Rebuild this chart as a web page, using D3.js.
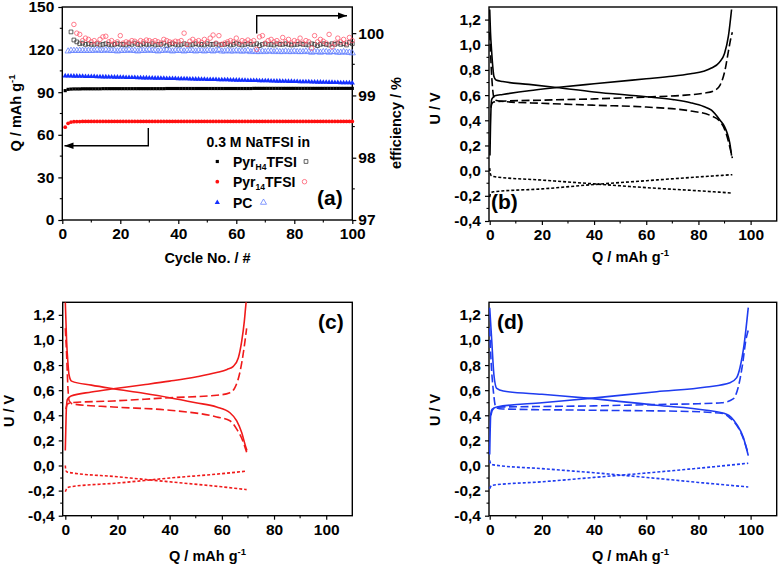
<!DOCTYPE html>
<html><head><meta charset="utf-8">
<script src="https://cdn.jsdelivr.net/npm/d3@7"></script>
<style>body{margin:0;background:#fff}svg{display:block}</style>
</head><body><svg id="c" width="779" height="566"></svg>
<script>
// ---------------- DATA ----------------
// Panel (a): capacity (left axis), cycle 1..100
const pyrH4Cap = [91.1,92.0,92.2,92.3,92.3,92.3,92.4,92.4,92.4,92.4,
 92.4,92.4,92.4,92.5,92.5,92.5,92.5,92.5,92.5,92.5,
 92.5,92.5,92.5,92.5,92.5,92.5,92.5,92.5,92.5,92.5,
 92.5,92.5,92.5,92.5,92.5,92.6,92.6,92.6,92.6,92.6,
 92.6,92.6,92.6,92.6,92.6,92.6,92.6,92.6,92.6,92.6,
 92.6,92.6,92.6,92.6,92.6,92.6,92.6,92.6,92.6,92.6,
 92.6,92.6,92.6,92.6,92.6,92.7,92.7,92.7,92.7,92.7,
 92.7,92.7,92.7,92.7,92.7,92.7,92.7,92.7,92.7,92.7,
 92.7,92.7,92.7,92.7,92.7,92.7,92.7,92.7,92.7,92.7,
 92.7,92.7,92.7,92.7,92.7,92.7,92.7,92.7,92.7,92.7];
const pyr14Cap = [65.4,68.1,69.0,69.2,69.3,69.3,69.4,69.4,69.4,69.4,
 69.4,69.4,69.4,69.4,69.4,69.4,69.4,69.4,69.4,69.4,
 69.4,69.4,69.4,69.4,69.4,69.4,69.4,69.4,69.4,69.4,
 69.4,69.4,69.4,69.4,69.4,69.4,69.4,69.4,69.4,69.4,
 69.4,69.4,69.4,69.4,69.4,69.4,69.4,69.4,69.4,69.4,
 69.4,69.4,69.4,69.4,69.4,69.4,69.4,69.4,69.4,69.4,
 69.4,69.4,69.4,69.4,69.4,69.4,69.4,69.4,69.4,69.4,
 69.4,69.4,69.4,69.4,69.4,69.4,69.4,69.4,69.4,69.4,
 69.4,69.4,69.4,69.4,69.4,69.4,69.4,69.4,69.4,69.4,
 69.4,69.4,69.4,69.4,69.4,69.4,69.4,69.4,69.4,69.4];
const pcCap = [101.5,101.4,101.4,101.3,101.3,101.2,101.2,101.1,101.1,101.0,
 101.0,100.9,100.9,100.8,100.8,100.7,100.7,100.6,100.6,100.5,
 100.5,100.4,100.4,100.3,100.3,100.2,100.2,100.1,100.1,100.0,
 100.0,99.9,99.9,99.8,99.8,99.7,99.7,99.6,99.6,99.5,
 99.5,99.4,99.4,99.3,99.3,99.2,99.2,99.1,99.1,99.0,
 99.0,98.9,98.9,98.8,98.8,98.7,98.7,98.6,98.6,98.5,
 98.5,98.4,98.4,98.3,98.3,98.2,98.2,98.1,98.1,98.0,
 98.0,97.9,97.9,97.8,97.8,97.7,97.7,97.6,97.6,97.5,
 97.5,97.4,97.4,97.3,97.3,97.2,97.2,97.1,97.1,97.0,
 97.0,96.9,96.9,96.8,96.8,96.7,96.7,96.6,96.6,96.5];
// Panel (a): coulombic efficiency (right axis)
const pyrH4EffStart = 3;
const pyrH4Eff = [100.02,99.89,99.86,99.83,99.84,99.82,99.83,99.82,
 99.82,99.83,99.81,99.82,99.83,99.82,99.81,99.82,99.83,99.82,
 99.82,99.81,99.83,99.82,99.84,99.82,99.81,99.83,99.82,99.82,
 99.83,99.81,99.82,99.82,99.84,99.80,99.82,99.83,99.82,99.81,
 99.82,99.83,99.82,99.81,99.82,99.83,99.82,99.82,99.81,99.83,
 99.82,99.82,99.83,99.81,99.82,99.82,99.83,99.81,99.82,99.84,
 99.82,99.81,99.82,99.83,99.82,99.82,99.83,99.80,99.82,99.83,
 99.82,99.82,99.81,99.83,99.82,99.82,99.83,99.82,99.81,99.82,
 99.82,99.83,99.82,99.82,99.81,99.83,99.82,99.80,99.82,99.83,
 99.82,99.81,99.83,99.82,99.84,99.82,99.83,99.81,99.85,99.83];
const pyr14EffStart = 4;
const pyr14Eff = [100.14,100.00,99.98,99.88,99.92,99.90,99.86,
 99.88,99.84,99.90,99.94,99.95,99.86,99.88,99.84,99.86,99.96,
 99.84,99.86,99.85,99.88,99.87,99.84,99.88,99.86,99.89,99.88,
 99.86,99.88,99.86,99.84,99.90,99.88,99.86,99.85,99.87,99.86,
 99.88,100.00,99.82,99.87,99.90,99.86,99.88,99.85,99.90,99.86,
 99.92,99.97,99.84,99.96,99.82,99.84,99.86,99.88,99.86,99.92,
 99.84,99.88,99.86,99.89,99.86,99.88,99.74,99.94,99.96,99.84,
 99.88,99.90,99.86,99.88,99.84,99.93,99.86,99.90,99.84,99.88,
 99.86,99.92,99.84,99.88,99.86,99.76,99.96,99.86,99.90,99.87,
 99.84,99.98,99.78,99.84,99.92,99.86,99.90,99.84,99.93,99.88];
const pcEffStart = 2;
const pcEff = [99.71,99.72,99.72,99.72,99.72,99.72,99.72,99.72,99.72,
 99.72,99.73,99.72,99.72,99.73,99.72,99.72,99.72,99.71,99.72,
 99.72,99.72,99.73,99.72,99.72,99.71,99.72,99.72,99.72,99.73,
 99.72,99.72,99.71,99.72,99.72,99.73,99.72,99.71,99.72,99.72,
 99.72,99.71,99.72,99.72,99.72,99.71,99.72,99.72,99.71,99.72,
 99.72,99.71,99.72,99.73,99.71,99.71,99.72,99.71,99.71,99.72,
 99.71,99.71,99.71,99.72,99.70,99.71,99.70,99.70,99.71,99.70,
 99.71,99.71,99.70,99.71,99.70,99.70,99.71,99.70,99.70,99.71,
 99.70,99.70,99.70,99.71,99.70,99.69,99.70,99.70,99.69,99.70,
 99.70,99.69,99.70,99.70,99.69,99.69,99.70,99.69,99.69,99.68];

// Panels (b)-(d): [Q (mAh/g), U (V)]
const bCellCharge = [[0.1,0.12],[0.3,0.35],[0.5,0.5],[0.7,0.56],[1.2,0.58],[2,0.595],[5,0.605],[15,0.635],[25.6,0.66],[40,0.69],[60,0.73],[70,0.75],[77,0.77],[82,0.79],[85,0.815],[88,0.86],[90,0.93],[91.5,1.07],[92.7,1.28]];
const bCellDischarge = [[0,1.28],[0.3,1.1],[0.7,0.96],[1.2,0.82],[1.6,0.75],[2.4,0.72],[5,0.708],[15,0.685],[25.6,0.66],[40,0.625],[60,0.587],[70,0.565],[77,0.54],[82,0.51],[85,0.48],[88.3,0.4],[90,0.35],[91,0.3],[92,0.22],[92.7,0.12]];
const bPosCharge = [[0.5,0.5],[0.8,0.53],[1.5,0.545],[3,0.55],[20,0.56],[40,0.57],[60,0.585],[75,0.6],[82,0.615],[86,0.635],[88.3,0.68],[90.2,0.8],[91.5,0.95],[92.4,1.05],[93,1.1]];
const bPosDischarge = [[0,1.1],[0.3,0.95],[0.6,0.81],[1,0.68],[1.4,0.6],[2,0.56],[6,0.548],[20,0.535],[40,0.52],[60,0.505],[77,0.474],[84.4,0.44],[88.3,0.39],[90,0.33],[91,0.27],[92,0.19],[93,0.1]];
const bNegA = [[0,0.02],[0.2,-0.02],[0.6,-0.04],[1.5,-0.047],[20,-0.075],[40,-0.105],[60,-0.135],[80,-0.16],[93,-0.178]];
const bNegB = [[0,-0.21],[0.2,-0.19],[0.6,-0.175],[1.5,-0.168],[20,-0.145],[40,-0.11],[60,-0.08],[80,-0.05],[93,-0.032]];

const cCellCharge = [[0,0.12],[0.2,0.3],[0.4,0.45],[0.8,0.527],[2.2,0.553],[10,0.585],[18.4,0.611],[30,0.643],[40,0.672],[50,0.705],[58,0.74],[62,0.765],[64.4,0.79],[66.3,0.856],[67.6,0.988],[68.6,1.146],[69.2,1.28],[69.5,1.34]];
const cCellDischarge = [[0,1.3],[0.5,0.99],[1,0.82],[1.4,0.725],[2.4,0.672],[10,0.64],[18.4,0.611],[30,0.575],[40,0.54],[50,0.5],[58,0.466],[63.1,0.42],[65.7,0.356],[67.6,0.263],[69.2,0.145],[69.6,0.12]];
const cPosCharge = [[0.2,0.448],[0.8,0.488],[2.2,0.5],[18.4,0.514],[40,0.54],[58,0.559],[63.1,0.58],[65,0.62],[67,0.75],[68.5,0.935],[69.5,1.093]];
const cPosDischarge = [[0,1.093],[0.5,0.883],[1,0.62],[1.5,0.514],[2.8,0.49],[18.4,0.466],[40,0.44],[58,0.387],[63.1,0.356],[65.7,0.29],[68,0.198],[69.5,0.105]];
const cNegA = [[0,0.0],[0.2,-0.04],[0.8,-0.053],[20,-0.09],[40,-0.13],[60,-0.17],[69.5,-0.192]];
const cNegB = [[0,-0.21],[0.4,-0.19],[1.5,-0.171],[20,-0.14],[40,-0.1],[60,-0.065],[69.5,-0.045]];

const dCellCharge = [[0,0.087],[0.4,0.41],[0.9,0.448],[2.7,0.466],[20,0.5],[38.4,0.535],[64,0.588],[83.1,0.625],[92.1,0.659],[94.6,0.698],[95.9,0.777],[97.5,0.962],[99.1,1.257]];
const dCellDischarge = [[0,1.257],[0.8,0.988],[1.6,0.725],[2.7,0.614],[5.2,0.593],[20,0.567],[38.4,0.535],[64,0.48],[83.1,0.44],[90.8,0.409],[94.6,0.33],[97.2,0.224],[99.1,0.079]];
const dPosCharge = [[0.5,0.4],[1,0.44],[2.7,0.465],[20,0.47],[40,0.475],[64,0.486],[80,0.492],[89,0.5],[93.3,0.53],[95.2,0.619],[96.9,0.804],[98.1,0.988],[99.3,1.093]];
const dPosDischarge = [[0,1.093],[0.4,0.883],[1.4,0.593],[2.4,0.461],[5,0.45],[40,0.44],[76.8,0.43],[89.5,0.414],[92,0.38],[95,0.31],[97.3,0.21],[99,0.1]];
const dNegA = [[0,0.04],[0.4,0.013],[1.4,0.005],[20,-0.025],[40,-0.058],[60,-0.095],[80,-0.135],[99.1,-0.171]];
const dNegB = [[0,-0.184],[0.8,-0.158],[20,-0.13],[40,-0.095],[60,-0.06],[80,-0.022],[99.1,0.018]];

// tick values
const aXTicks = [0,20,40,60,80,100], aXMinor = [10,30,50,70,90];
const aYTicks = [0,30,60,90,120,150], aYMinor = [15,45,75,105,135];
const aY2Ticks = [97,98,99,100], aY2Minor = [97.5,98.5,99.5];
const uXTicks = [0,20,40,60,80,100], uXMinor = [10,30,50,70,90];
const uYTicks = [-0.4,-0.2,0,0.2,0.4,0.6,0.8,1.0,1.2], uYMinor = [-0.3,-0.1,0.1,0.3,0.5,0.7,0.9,1.1];
const legendTitle = "0.3 M NaTFSI in";

// ---------------- DRAW ----------------
const FONT = '"Liberation Sans", Arial, Helvetica, sans-serif';
const TICK_FS = 15.5;
const svg = d3.select('#c');
svg.append('rect').attr('width',779).attr('height',566).attr('fill','#fff');
svg.attr('font-family',FONT).attr('font-weight','bold');

function style(sel){
  sel.attr('font-family',FONT).attr('font-size',TICK_FS).attr('font-weight','bold');
  sel.select('.domain').remove();
  sel.selectAll('.tick line').attr('stroke','#000').attr('stroke-width',1.2);
  sel.selectAll('.tick text').attr('fill','#000');
}
function frame(x0,y0,x1,y1){
  svg.append('rect').attr('x',x0).attr('y',y0).attr('width',x1-x0).attr('height',y1-y0)
    .attr('fill','none').attr('stroke','#000').attr('stroke-width',1.4);
}
function minorX(x, y0, vals, dir){
  svg.append('g').selectAll('line').data(vals).join('line')
    .attr('x1',d=>x(d)).attr('x2',d=>x(d)).attr('y1',y0).attr('y2',y0+2.5*dir)
    .attr('stroke','#000').attr('stroke-width',1.1);
}
function minorY(y, x0, vals, dir){
  svg.append('g').selectAll('line').data(vals).join('line')
    .attr('y1',d=>y(d)).attr('y2',d=>y(d)).attr('x1',x0).attr('x2',x0+2.5*dir)
    .attr('stroke','#000').attr('stroke-width',1.1);
}
const commaFmt = d => (d<0?'-':'') + Math.abs(d).toFixed(1).replace('.',',');

function qTitle(cx, by){
  const t = svg.append('text').attr('x',cx).attr('y',by).attr('text-anchor','middle').attr('font-size',14.5);
  t.append('tspan').text('Q / mAh g');
  t.append('tspan').attr('dy',-6).attr('font-size',9.5).text('-1');
}
function uTitle(bx, cy){
  svg.append('text').attr('transform',`translate(${bx},${cy}) rotate(-90)`)
    .attr('text-anchor','middle').attr('font-size',14.5).text('U / V');
}
function panelLabel(x, y, s){
  svg.append('text').attr('x',x).attr('y',y).attr('font-size',21).text(s);
}

// ---------- Panel (a) ----------
const xA = d3.scaleLinear([0,100],[62.3,352.3]);
const yA = d3.scaleLinear([0,150],[220,7]);
const yA2 = d3.scaleLinear([97,100.42],[220,7]);
frame(62.3,7,352.3,220);
style(svg.append('g').attr('transform','translate(0,220)')
  .call(d3.axisBottom(xA).tickValues(aXTicks).tickSize(4).tickPadding(4).tickFormat(d3.format('d'))));
minorX(xA,220,aXMinor,1);
style(svg.append('g').attr('transform','translate(62.3,0)')
  .call(d3.axisLeft(yA).tickValues(aYTicks).tickSize(4).tickPadding(4).tickFormat(d3.format('d'))));
minorY(yA,62.3,aYMinor,-1);
style(svg.append('g').attr('transform','translate(352.3,0)')
  .call(d3.axisRight(yA2).tickValues(aY2Ticks).tickSize(4).tickPadding(2).tickFormat(d3.format('d'))));
minorY(yA2,352.3,aY2Minor,1);

svg.append('clipPath').attr('id','clipA').append('rect').attr('x',55).attr('y',7).attr('width',305).attr('height',216);
const gA = svg.append('g').attr('clip-path','url(#clipA)');
const sym = (type,size) => d3.symbol().type(type).size(size)();
function plotPts(vals, start, y, type, size, fill, stroke, sw){
  gA.append('g').selectAll('path').data(vals).join('path')
    .attr('transform',(d,i)=>`translate(${xA(i+start)},${y(d)})`)
    .attr('d',sym(type,size))
    .attr('fill',fill).attr('stroke',stroke).attr('stroke-width',sw);
}
const RED='#ff1010', BLUE='#1430ff';
const OPEN_K='#3a3a3a', OPEN_R='#ff5a6e', OPEN_B='#6482ff';
plotPts(pyrH4Eff, pyrH4EffStart, yA2, d3.symbolSquare, 14, 'none', OPEN_K, 0.8);
plotPts(pcEff, pcEffStart, yA2, d3.symbolTriangle, 16, 'none', OPEN_B, 0.8);
plotPts(pyr14Eff, pyr14EffStart, yA2, d3.symbolCircle, 16, 'none', OPEN_R, 0.8);
plotPts(pyrH4Cap, 1, yA, d3.symbolSquare, 10, '#000', 'none', 0);
plotPts(pyr14Cap, 1, yA, d3.symbolCircle, 11, RED, 'none', 0);
plotPts(pcCap, 1, yA, d3.symbolTriangle, 12, BLUE, 'none', 0);

// arrows
function arrow(pts, headDir){
  svg.append('path').attr('d',d3.line()(pts)).attr('fill','none').attr('stroke','#000').attr('stroke-width',1.4);
  const [tx,ty] = pts[pts.length-1];
  const L=9, Wd=3.2;
  const poly = headDir<0 ? [[tx,ty],[tx+L,ty-Wd],[tx+L,ty+Wd]] : [[tx,ty],[tx-L,ty-Wd],[tx-L,ty+Wd]];
  svg.append('path').attr('d',d3.line()(poly)+'Z').attr('fill','#000');
}
arrow([[148.3,128],[148.3,145.7],[64.5,145.7]], -1);
arrow([[256.7,33.5],[256.7,15.7],[347,15.7]], 1);

// legend
svg.append('text').attr('x',206.5).attr('y',147).attr('font-size',14).text(legendTitle);
const legRows = [
  {y:161.5, type:d3.symbolSquare, fill:'#000', size:10, open:OPEN_K, ox:306, osize:14, name:['Pyr','H4','TFSI']},
  {y:181.7, type:d3.symbolCircle, fill:RED, size:11, open:OPEN_R, ox:304.5, osize:16, name:['Pyr','14','TFSI']},
  {y:202.5, type:d3.symbolTriangle, fill:BLUE, size:12, open:OPEN_B, ox:263.5, osize:16, name:['PC']}
];
legRows.forEach(r=>{
  svg.append('path').attr('transform',`translate(217.3,${r.y})`).attr('d',sym(r.type,r.size)).attr('fill',r.fill);
  svg.append('path').attr('transform',`translate(${r.ox},${r.y})`).attr('d',sym(r.type,r.osize)).attr('fill','none').attr('stroke',r.open).attr('stroke-width',0.8);
  const t = svg.append('text').attr('x',233).attr('y',r.y+5).attr('font-size',14);
  t.append('tspan').text(r.name[0]);
  if(r.name.length>1){
    t.append('tspan').attr('dy',3.5).attr('font-size',8.5).text(r.name[1]);
    t.append('tspan').attr('dy',-3.5).text(r.name[2]);
  }
});
panelLabel(317,204.5,'(a)');

// titles (a)
{
  const t = svg.append('text').attr('transform','translate(21,113) rotate(-90)').attr('text-anchor','middle').attr('font-size',14.5);
  t.append('tspan').text('Q / mAh g');
  t.append('tspan').attr('dy',-6).attr('font-size',9.5).text('-1');
}
svg.append('text').attr('x',207.5).attr('y',262.5).attr('text-anchor','middle').attr('font-size',14.5).text('Cycle No. / #');
svg.append('text').attr('transform','translate(401,123) rotate(-90)').attr('text-anchor','middle').attr('font-size',14.5).text('efficiency / %');

// ---------- Voltage panels ----------
function voltagePanel(id, x0, x1, y0, y1, xDom, color, curves){
  const x = d3.scaleLinear(xDom,[x0,x1]);
  const y = d3.scaleLinear([-0.4,1.3],[y1,y0]);
  frame(x0,y0,x1,y1);
  style(svg.append('g').attr('transform',`translate(0,${y1})`)
    .call(d3.axisBottom(x).tickValues(uXTicks).tickSize(4).tickPadding(4).tickFormat(d3.format('d'))));
  minorX(x,y1,uXMinor,1);
  style(svg.append('g').attr('transform',`translate(${x0},0)`)
    .call(d3.axisLeft(y).tickValues(uYTicks).tickSize(4).tickPadding(4).tickFormat(commaFmt)));
  minorY(y,x0,uYMinor,-1);
  svg.append('clipPath').attr('id','clip'+id).append('rect')
    .attr('x',x0).attr('y',y0).attr('width',x1-x0).attr('height',y1-y0);
  const g = svg.append('g').attr('clip-path',`url(#clip${id})`);
  const line = d3.line().x(d=>x(d[0])).y(d=>y(d[1])).curve(d3.curveMonotoneX);
  const dashes = {solid:null, dashed:'8,3.5', dotted:'3,2'};
  curves.forEach(c=>{
    g.append('path').datum(c.data).attr('d',line).attr('fill','none')
      .attr('stroke',color).attr('stroke-width',1.6)
      .attr('stroke-dasharray',dashes[c.style]);
  });
}
voltagePanel('b',489,776.7,7,221,[-0.27,110],'#000',[
  {data:bCellCharge,style:'solid'},{data:bCellDischarge,style:'solid'},
  {data:bPosCharge,style:'dashed'},{data:bPosDischarge,style:'dashed'},
  {data:bNegA,style:'dotted'},{data:bNegB,style:'dotted'}]);
voltagePanel('c',62.7,352.3,302.3,515.7,[-1,110],'#f01a1a',[
  {data:cCellCharge,style:'solid'},{data:cCellDischarge,style:'solid'},
  {data:cPosCharge,style:'dashed'},{data:cPosDischarge,style:'dashed'},
  {data:cNegA,style:'dotted'},{data:cNegB,style:'dotted'}]);
voltagePanel('d',489,776.7,302.3,515.7,[-0.27,110],'#1f3cf0',[
  {data:dCellCharge,style:'solid'},{data:dCellDischarge,style:'solid'},
  {data:dPosCharge,style:'dashed'},{data:dPosDischarge,style:'dashed'},
  {data:dNegA,style:'dotted'},{data:dNegB,style:'dotted'}]);

uTitle(440,108.5); qTitle(630.5,262);
uTitle(13.5,411); qTitle(207.5,561);
uTitle(439.5,410); qTitle(630.5,561);
panelLabel(491,209,'(b)');
panelLabel(318,329,'(c)');
panelLabel(497,329,'(d)');
</script></body></html>
